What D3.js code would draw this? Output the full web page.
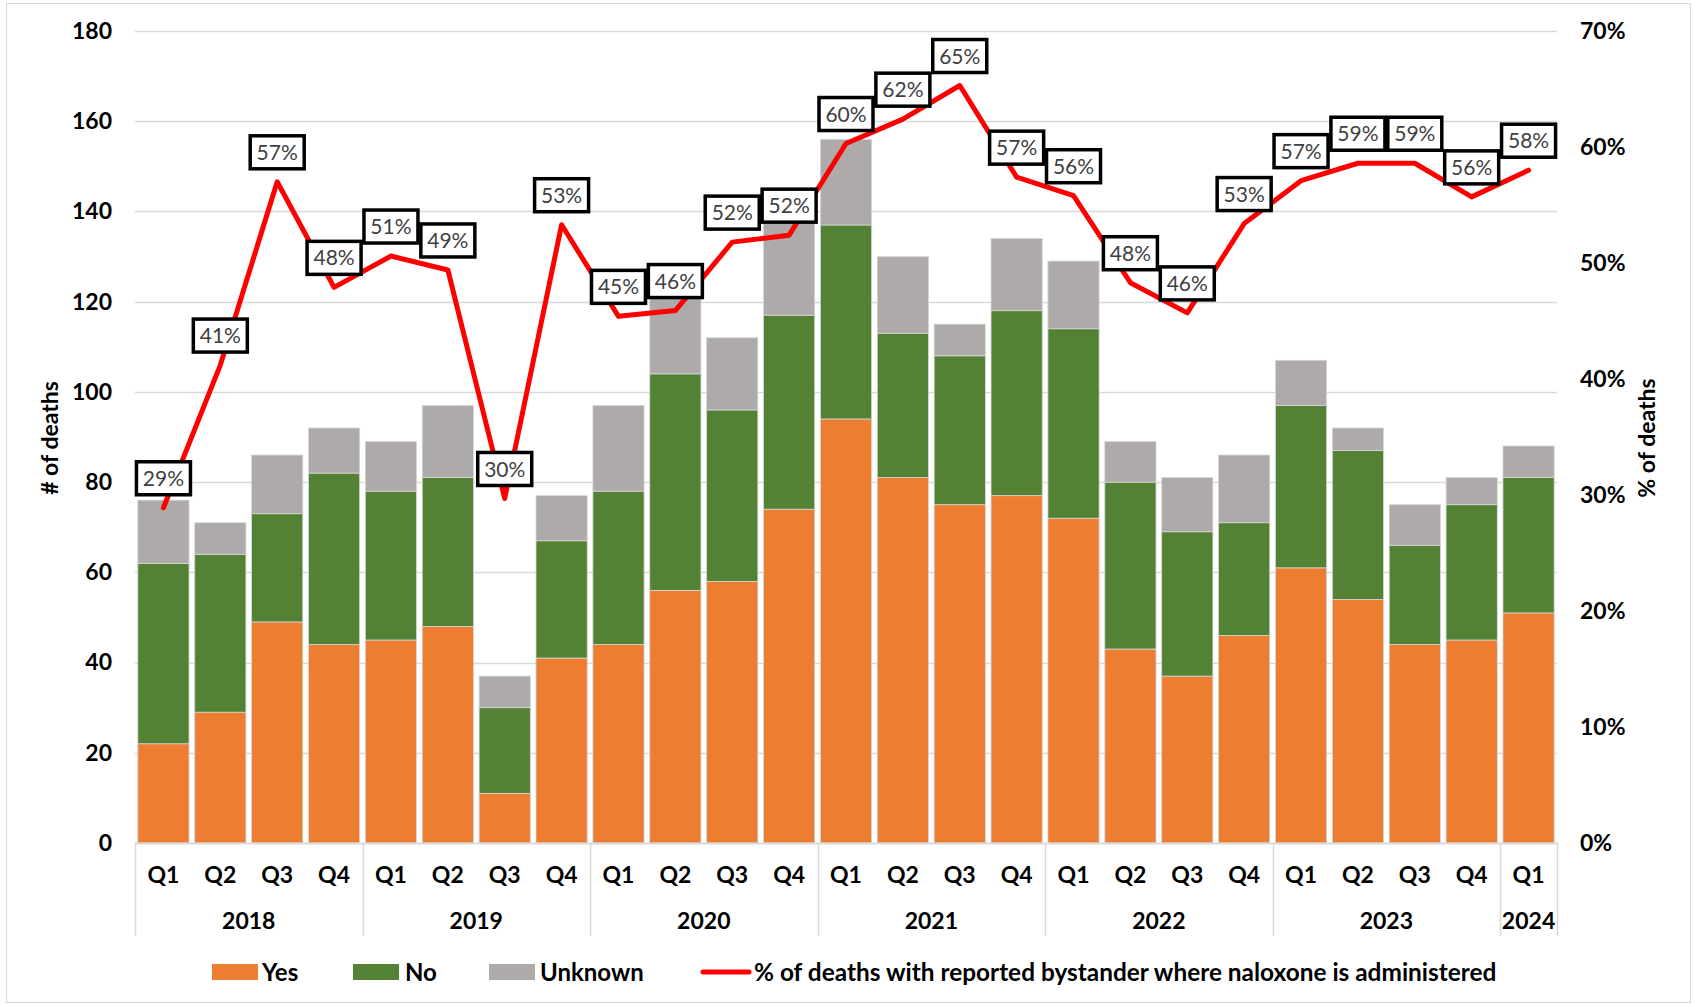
<!DOCTYPE html>
<html>
<head>
<meta charset="utf-8">
<script src="https://cdn.jsdelivr.net/npm/d3@7"></script>
<style>
  body { margin: 0; background: #fff; }
  svg { display: block; }
</style>
</head>
<body>
<script>
// Size
var w = 1694;
var h = 1004;

// Data
var years    = ["2018", "2019", "2020", "2021", "2022", "2023", "2024"];
var quarters = ["Q1", "Q2", "Q3", "Q4"];
var periods  = [];                                   // "2018 Q1" ... "2024 Q1"
years.forEach(function(y) {
  quarters.forEach(function(q) {
    if (y !== "2024" || q === "Q1") periods.push(y + " " + q);
  });
});

var yes     = [22, 29, 49, 44, 45, 48, 11, 41, 44, 56, 58, 74, 94, 81, 75, 77, 72, 43, 37, 46, 61, 54, 44, 45, 51];
var no      = [40, 35, 24, 38, 33, 33, 19, 26, 34, 48, 38, 43, 43, 32, 33, 41, 42, 37, 32, 25, 36, 33, 22, 30, 30];
var unknown = [14,  7, 13, 10, 11, 16,  7, 10, 19, 18, 16, 23, 19, 17,  7, 16, 15,  9, 12, 15, 10,  5,  9,  6,  7];
var pct     = [28.9, 41.2, 57.0, 47.9, 50.6, 49.4, 29.7, 53.3, 45.4, 45.9, 51.8, 52.4,
               60.3, 62.4, 65.3, 57.4, 55.8, 48.3, 45.7, 53.4, 57.1, 58.6, 58.6, 55.7, 58.0];

var leftTicks  = [0, 20, 40, 60, 80, 100, 120, 140, 160, 180];
var rightTicks = [0, 10, 20, 30, 40, 50, 60, 70];
var seriesNames = ["Yes", "No", "Unknown"];
var colors = { Yes: "#ED7D31", No: "#548235", Unknown: "#AEAAAA" };
var lineName = "% of deaths with reported bystander where naloxone is administered";

var font = "Lato, 'Open Sans', sans-serif";

// Table for the stack
var table = periods.map(function(p, i) {
  return { period: p, Yes: yes[i], No: no[i], Unknown: unknown[i] };
});

// Plot area
var plotL = 135, plotR = 1557, plotT = 31, plotB = 843;

var x = d3.scaleBand().domain(periods).range([plotL, plotR]).paddingInner(0.1).paddingOuter(0.05);
var yL = d3.scaleLinear().domain([0, 180]).range([plotB, plotT]);
var yR = d3.scaleLinear().domain([0, 70]).range([plotB, plotT]);

var svg = d3.select("body")
            .append("svg")
            .attr("width", w)
            .attr("height", h)
            .style("font-family", font);

// Chart border
svg.append("rect")
   .attr("x", 6.5).attr("y", 3.5)
   .attr("width", 1684).attr("height", 999)
   .attr("fill", "none")
   .attr("stroke", "#d9d9d9");

// Gridlines
svg.append("g")
   .selectAll("line")
   .data(leftTicks.slice(1))
   .enter()
   .append("line")
   .attr("x1", plotL).attr("x2", plotR)
   .attr("y1", function(d) { return Math.round(yL(d)) + 0.5; })
   .attr("y2", function(d) { return Math.round(yL(d)) + 0.5; })
   .attr("stroke", "#d9d9d9")
   .attr("stroke-width", 1.5);

// Stacked bars
var stack = d3.stack().keys(seriesNames)(table);

svg.append("g")
   .selectAll("g")
   .data(stack)
   .enter()
   .append("g")
   .attr("fill", function(d) { return colors[d.key]; })
   .selectAll("rect")
   .data(function(d) { return d; })
   .enter()
   .append("rect")
   .attr("x", function(d) { return x(d.data.period); })
   .attr("y", function(d) { return yL(d[1]); })
   .attr("width", x.bandwidth())
   .attr("height", function(d) { return yL(d[0]) - yL(d[1]); })
   .attr("stroke", "#d6d6d6")
   .attr("stroke-width", 0.8);

// Left axis
var axL = svg.append("g")
   .attr("transform", "translate(112,0)")
   .call(d3.axisLeft(yL).tickValues(leftTicks).tickSize(0).tickPadding(0));
axL.select(".domain").remove();
axL.selectAll("text")
   .attr("font-family", font)
   .attr("font-size", "23px")
   .attr("font-weight", "bold")
   .attr("fill", "#000");

// Right axis
var axR = svg.append("g")
   .attr("transform", "translate(1580,0)")
   .call(d3.axisRight(yR).tickValues(rightTicks).tickSize(0).tickPadding(0)
           .tickFormat(function(d) { return d + "%"; }));
axR.select(".domain").remove();
axR.selectAll("text")
   .attr("font-family", font)
   .attr("font-size", "23px")
   .attr("font-weight", "bold")
   .attr("fill", "#000");

// Axis titles
svg.append("text")
   .attr("transform", "translate(58,438) rotate(-90)")
   .attr("text-anchor", "middle")
   .attr("font-size", "23px")
   .attr("font-weight", "bold")
   .text("# of deaths");

svg.append("text")
   .attr("transform", "translate(1655,438) rotate(-90)")
   .attr("text-anchor", "middle")
   .attr("font-size", "23px")
   .attr("font-weight", "bold")
   .text("% of deaths");

// Category axis: base line, quarter labels, year labels, separators
svg.append("line")
   .attr("x1", plotL).attr("x2", plotR)
   .attr("y1", plotB + 0.5).attr("y2", plotB + 0.5)
   .attr("stroke", "#d9d9d9")
   .attr("stroke-width", 2);

svg.append("g")
   .selectAll("text")
   .data(periods)
   .enter()
   .append("text")
   .attr("x", function(d) { return x(d) + x.bandwidth() / 2; })
   .attr("y", 883)
   .attr("text-anchor", "middle")
   .attr("font-size", "23px")
   .attr("font-weight", "bold")
   .text(function(d) { return d.split(" ")[1]; });

var yearGroups = years.map(function(y) {
  var ps = periods.filter(function(p) { return p.indexOf(y) === 0; });
  var gap = x.step() - x.bandwidth();
  var x0 = x(ps[0]) - gap / 2;
  var x1 = x(ps[ps.length - 1]) + x.bandwidth() + gap / 2;
  return { year: y, x0: Math.max(x0, plotL), x1: Math.min(x1, plotR) };
});

svg.append("g")
   .selectAll("line")
   .data(yearGroups.map(function(g) { return g.x0; }).concat([plotR]))
   .enter()
   .append("line")
   .attr("x1", function(d) { return Math.round(d) + 0.5; })
   .attr("x2", function(d) { return Math.round(d) + 0.5; })
   .attr("y1", plotB).attr("y2", 936)
   .attr("stroke", "#d9d9d9")
   .attr("stroke-width", 1.5);

svg.append("g")
   .selectAll("text")
   .data(yearGroups)
   .enter()
   .append("text")
   .attr("x", function(d) { return (d.x0 + d.x1) / 2; })
   .attr("y", 929)
   .attr("text-anchor", "middle")
   .attr("font-size", "23px")
   .attr("font-weight", "bold")
   .text(function(d) { return d.year; });

// Percentage line
var line = d3.line()
   .x(function(d, i) { return x(periods[i]) + x.bandwidth() / 2; })
   .y(function(d) { return yR(d); });

svg.append("path")
   .datum(pct)
   .attr("d", line)
   .attr("fill", "none")
   .attr("stroke", "#FF0000")
   .attr("stroke-width", 5)
   .attr("stroke-linejoin", "round")
   .attr("stroke-linecap", "round");

// Data labels
var boxW = 54, boxH = 33;
var labels = svg.append("g")
   .selectAll("g")
   .data(pct)
   .enter()
   .append("g")
   .attr("transform", function(d, i) {
     return "translate(" + (x(periods[i]) + x.bandwidth() / 2) + "," + (yR(d) - 13 - boxH / 2) + ")";
   });

labels.append("rect")
   .attr("x", -boxW / 2).attr("y", -boxH / 2)
   .attr("width", boxW).attr("height", boxH)
   .attr("fill", "#fff")
   .attr("stroke", "#000")
   .attr("stroke-width", 3.5);

labels.append("text")
   .attr("text-anchor", "middle")
   .attr("dy", "0.36em")
   .attr("font-size", "21px")
   .attr("fill", "#404040")
   .text(function(d) { return Math.round(d) + "%"; });

// Legend
var legendItems = [
  { name: "Yes", sx: 212, tx: 262 },
  { name: "No", sx: 353, tx: 405 },
  { name: "Unknown", sx: 489, tx: 540 }
];
var legend = svg.append("g");

legend.selectAll("rect")
   .data(legendItems)
   .enter()
   .append("rect")
   .attr("x", function(d) { return d.sx; })
   .attr("y", 964)
   .attr("width", 46)
   .attr("height", 16)
   .attr("fill", function(d) { return colors[d.name]; });

legend.selectAll("text.series")
   .data(legendItems)
   .enter()
   .append("text")
   .attr("class", "series")
   .attr("x", function(d) { return d.tx; })
   .attr("y", 981)
   .attr("font-size", "24px")
   .attr("font-weight", "bold")
   .text(function(d) { return d.name; });

legend.append("line")
   .attr("x1", 703).attr("x2", 749)
   .attr("y1", 972).attr("y2", 972)
   .attr("stroke", "#FF0000")
   .attr("stroke-width", 5)
   .attr("stroke-linecap", "round");

legend.append("text")
   .attr("x", 754)
   .attr("y", 981)
   .attr("font-size", "24.4px")
   .attr("font-weight", "bold")
   .text(lineName);
</script>
</body>
</html>
